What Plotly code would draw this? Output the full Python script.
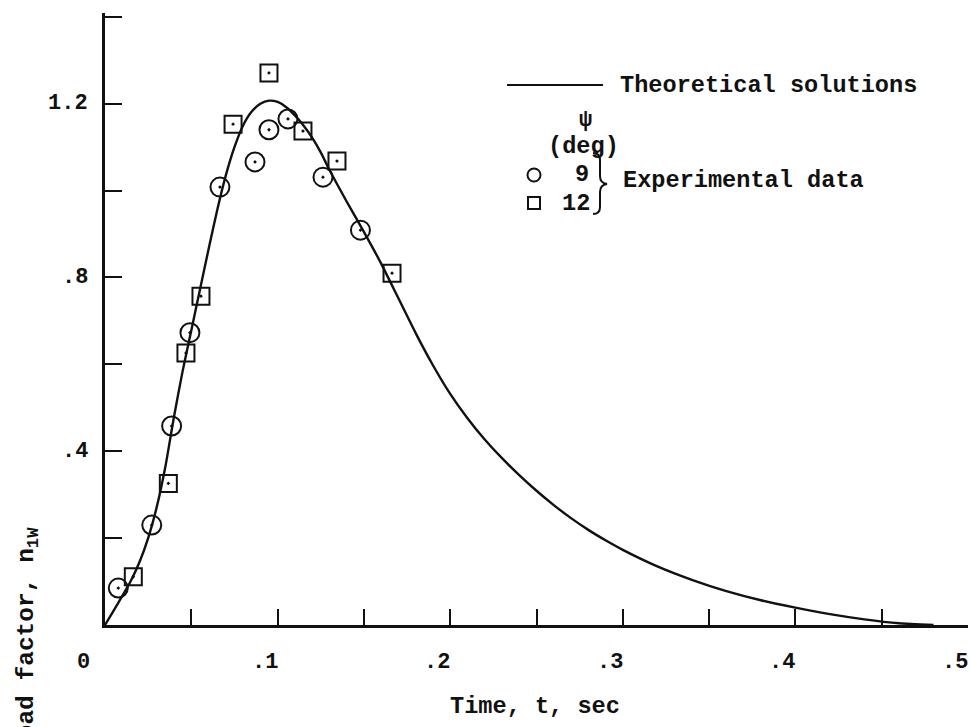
import plotly.graph_objects as go

# ---------------- data ----------------
theory_t = [0.0, 0.005, 0.010, 0.015, 0.020, 0.025, 0.030, 0.035, 0.040, 0.045,
            0.050, 0.055, 0.060, 0.065, 0.070, 0.075, 0.080, 0.085, 0.090, 0.095,
            0.100, 0.105, 0.110, 0.115, 0.120, 0.125, 0.130, 0.140, 0.150, 0.160,
            0.170, 0.180, 0.190, 0.200, 0.210, 0.220, 0.230, 0.240, 0.250, 0.260,
            0.270, 0.280, 0.290, 0.300, 0.320, 0.340, 0.360, 0.380, 0.400, 0.420,
            0.440, 0.460, 0.480]
theory_n = [0.0, 0.033, 0.067, 0.102, 0.145, 0.200, 0.272, 0.365, 0.480, 0.585,
            0.678, 0.772, 0.865, 0.955, 1.035, 1.100, 1.150, 1.182, 1.200, 1.207,
            1.204, 1.192, 1.173, 1.150, 1.122, 1.088, 1.048, 0.975, 0.905, 0.832,
            0.752, 0.672, 0.598, 0.532, 0.476, 0.427, 0.384, 0.345, 0.309, 0.276,
            0.246, 0.219, 0.195, 0.173, 0.135, 0.104, 0.078, 0.057, 0.040, 0.025,
            0.013, 0.004, 0.0]

circle_t = [0.0077, 0.0271, 0.0386, 0.0492, 0.0666, 0.0869, 0.0950, 0.1060, 0.1263, 0.1480]
circle_n = [0.085, 0.230, 0.458, 0.673, 1.008, 1.066, 1.140, 1.165, 1.031, 0.909]

square_t = [0.0164, 0.0367, 0.0469, 0.0556, 0.0742, 0.0950, 0.1147, 0.1344, 0.1663]
square_n = [0.111, 0.326, 0.626, 0.757, 1.153, 1.271, 1.137, 1.068, 0.810]

x_tickvals = [0, 0.1, 0.2, 0.3, 0.4, 0.5]
x_ticktext = ["0", ".1", ".2", ".3", ".4", ".5"]
y_tickvals = [0.4, 0.8, 1.2]
y_ticktext = [".4", ".8", "1.2"]

x_title = "Time, t, sec"
y_title = "Load factor, n<sub>1W</sub>"
leg_theory = "Theoretical solutions"
leg_exp = "Experimental data"
leg_psi = "ψ"
leg_unit = "(deg)"
leg_angles = ["9", "12"]

# ---------------- layout geometry ----------------
W, H = 971, 727
L, R, T, B = 105, 968, 13, 625
PW, PH = R - L, B - T

def px(xp):
    return (xp - L) / PW

def py(yp):
    return (B - yp) / PH

FONT = "Liberation Mono"
INK = "#111111"
WT = "bold"

fig = go.Figure()

fig.add_trace(go.Scatter(
    x=theory_t, y=theory_n, mode="lines",
    line=dict(color=INK, width=2.4, shape="spline", smoothing=0.6),
    showlegend=False, hoverinfo="skip"))

fig.add_trace(go.Scatter(
    x=circle_t, y=circle_n, mode="markers",
    marker=dict(symbol="circle-open-dot", size=19, color=INK, line=dict(width=2, color=INK)),
    showlegend=False))

fig.add_trace(go.Scatter(
    x=square_t, y=square_n, mode="markers",
    marker=dict(symbol="square-open-dot", size=17, color=INK, line=dict(width=2, color=INK)),
    showlegend=False))

def f(size):
    return dict(family=FONT, size=size, color=INK, weight=WT)

ann = []
# x tick labels
for v, t in zip(x_tickvals, x_ticktext):
    ann.append(dict(x=v, y=0, xref="x", yref="y", text=t, showarrow=False,
                    xanchor="right", yanchor="middle",
                    xshift=(-13 if v == 0 else 2), yshift=-37, font=f(22)))
# y tick labels
for v, t in zip(y_tickvals, y_ticktext):
    ann.append(dict(x=0, y=v, xref="paper", yref="y", text=t, showarrow=False,
                    xanchor="right", yanchor="middle", xshift=-15, font=f(22)))
# axis titles
ann.append(dict(x=px(535), y=py(706), xref="paper", yref="paper", text=x_title,
                showarrow=False, xanchor="center", yanchor="middle", font=f(23.6)))
ann.append(dict(x=px(28), y=py(641), xref="paper", yref="paper", text=y_title,
                showarrow=False, xanchor="center", yanchor="middle", textangle=-90,
                font=f(24.5)))
# legend texts
ann.append(dict(x=px(618), y=py(85), xref="paper", yref="paper", text=leg_theory,
                showarrow=False, xanchor="left", yanchor="middle", font=f(23.6)))
ann.append(dict(x=px(585), y=py(120), xref="paper", yref="paper", text=leg_psi,
                showarrow=False, xanchor="center", yanchor="middle", font=f(22)))
ann.append(dict(x=px(583), y=py(146), xref="paper", yref="paper", text=leg_unit,
                showarrow=False, xanchor="center", yanchor="middle", font=f(23.6)))
ann.append(dict(x=px(591), y=py(175), xref="paper", yref="paper", text=leg_angles[0],
                showarrow=False, xanchor="right", yanchor="middle", font=f(23.6)))
ann.append(dict(x=px(592), y=py(203), xref="paper", yref="paper", text=leg_angles[1],
                showarrow=False, xanchor="right", yanchor="middle", font=f(23.6)))
ann.append(dict(x=px(621), y=py(180), xref="paper", yref="paper", text=leg_exp,
                showarrow=False, xanchor="left", yanchor="middle", font=f(23.6)))

shapes = []
# legend line
shapes.append(dict(type="line", xref="paper", yref="paper",
                   x0=px(507), x1=px(603), y0=py(85), y1=py(85),
                   line=dict(color=INK, width=2)))
# legend symbols
shapes.append(dict(type="circle", xref="paper", yref="paper",
                   xsizemode="pixel", ysizemode="pixel",
                   xanchor=px(534), yanchor=py(175), x0=-6.5, x1=6.5, y0=-6.5, y1=6.5,
                   line=dict(color=INK, width=2)))
shapes.append(dict(type="rect", xref="paper", yref="paper",
                   xsizemode="pixel", ysizemode="pixel",
                   xanchor=px(534), yanchor=py(203), x0=-6, x1=6, y0=-6, y1=6,
                   line=dict(color=INK, width=2)))
# brace
def P(xp, yp):
    return f"{px(xp):.5f},{py(yp):.5f}"
brace = ("M " + P(593, 153) + " Q " + P(600, 153) + " " + P(600, 160) +
         " L " + P(600, 176) + " Q " + P(600, 183) + " " + P(607, 184) +
         " Q " + P(600, 185) + " " + P(600, 192) +
         " L " + P(600, 207) + " Q " + P(600, 214) + " " + P(593, 214))
shapes.append(dict(type="path", xref="paper", yref="paper", path=brace,
                   line=dict(color=INK, width=2)))

fig.update_layout(
    width=W, height=H,
    margin=dict(l=L, r=W - R, t=T, b=H - B, pad=0),
    paper_bgcolor="white", plot_bgcolor="white",
    annotations=ann, shapes=shapes,
    showlegend=False,
    xaxis=dict(range=[0, 0.5], showgrid=False, zeroline=False,
               showline=True, linecolor=INK, linewidth=2.5,
               ticks="inside", tick0=0, dtick=0.05, ticklen=16, tickwidth=2,
               tickcolor=INK, showticklabels=False),
    yaxis=dict(range=[0, PH / 434.4], showgrid=False, zeroline=False,
               showline=True, linecolor=INK, linewidth=3,
               ticks="inside", tick0=0, dtick=0.2, ticklen=17, tickwidth=2,
               tickcolor=INK, showticklabels=False),
)

fig.write_html("out.html", config={"displayModeBar": False},
               post_script="document.body.style.margin='0';document.body.style.overflow='hidden';")
